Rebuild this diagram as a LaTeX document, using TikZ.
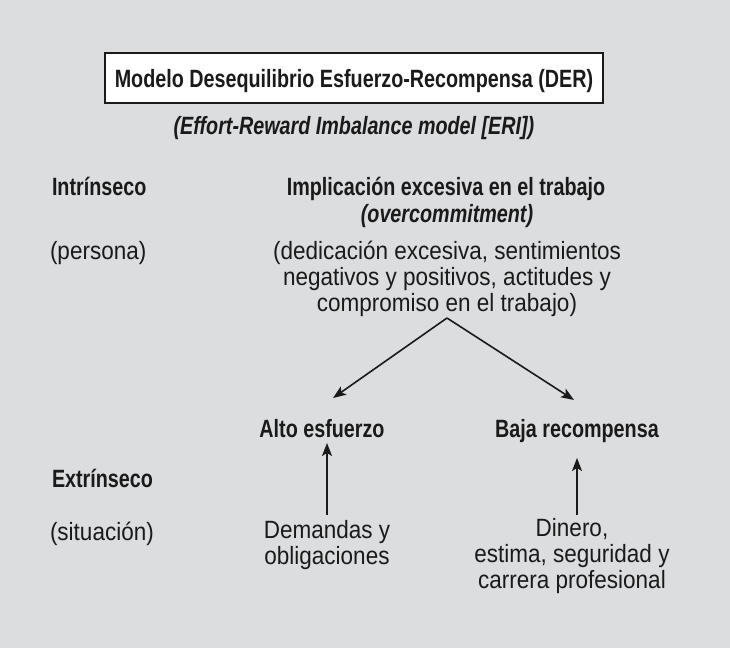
\documentclass[tikz,border=0pt]{standalone}
\usepackage{fontspec}
\setmainfont[FakeStretch=0.9]{Liberation Sans}
\newfontfamily\boldf[FakeStretch=0.79]{Liberation Sans}
\usetikzlibrary{arrows.meta}
\definecolor{bg}{HTML}{DCDDDF}
\definecolor{ink}{HTML}{1A1A1A}
\begin{document}
\begin{tikzpicture}[x=1pt,y=-1pt,
  every node/.style={inner sep=0pt,outer sep=0pt,text=ink,font=\fontsize{25}{26}\selectfont},
  lbl/.style={anchor=base west},
  ctr/.style={anchor=base,align=center},
  bf/.style={font=\fontsize{25}{26}\selectfont\boldf\bfseries},
  bfit/.style={font=\fontsize{25}{26}\selectfont\boldf\bfseries\itshape},
  conn/.style={draw=ink,line width=1.6pt,-{Stealth[length=13pt,width=10pt,inset=3pt]}}]
\fill[bg] (0,0) rectangle (730,648);
\useasboundingbox (0,0) rectangle (730,648);
\draw[ink,line width=2pt,fill=white] (105,53) rectangle (603,103);
\node[ctr,bf] (title) at (354,87) {Modelo Desequilibrio Esfuerzo-Recompensa (DER)};
\node[ctr,bfit] (sub) at (354,134) {(Effort-Reward Imbalance model [ERI])};
\node[lbl,bf] (intr) at (52,195) {Intrínseco};
\node[ctr,bf] (impl) at (446,195) {Implicación excesiva en el trabajo};
\node[ctr,bfit] (over) at (447,222) {(overcommitment)};
\node[lbl] (pers) at (50,259) {(persona)};
\node[ctr] (desc) at (447,311) {(dedicación excesiva, sentimientos\\negativos y positivos, actitudes y\\compromiso en el trabajo)};
\coordinate (apex) at (447,318);
\node[ctr,bf] (alto) at (322,437) {Alto esfuerzo};
\node[ctr,bf] (baja) at (577,437) {Baja recompensa};
\node[lbl,bf] (extr) at (52,487) {Extrínseco};
\node[lbl] (sit) at (50,540) {(situación)};
\node[ctr] (dem) at (327,564) {Demandas y\\obligaciones};
\node[ctr] (din) at (572,588) {Dinero,\\estima, seguridad y\\carrera profesional};
\coordinate (altoTip) at (333,398);
\coordinate (bajaTip) at (574,400);
\draw[conn] (apex) -- (altoTip);
\draw[conn] (apex) -- (bajaTip);
\coordinate (demTop) at (327,515);
\coordinate (dinTop) at (577,515);
\draw[conn] (demTop) -- (327,443);
\draw[conn] (dinTop) -- (577,458);
\end{tikzpicture}
\end{document}
